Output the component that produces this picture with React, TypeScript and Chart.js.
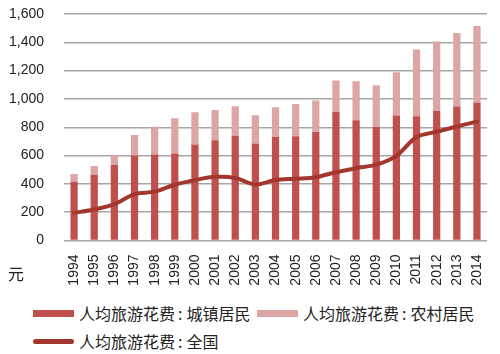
import React, { useEffect, useRef } from "react";
import { Chart, registerables } from "chart.js";

Chart.register(...registerables);

const years = ["1994","1995","1996","1997","1998","1999","2000","2001","2002","2003","2004","2005","2006","2007","2008","2009","2010","2011","2012","2013","2014"];
const urban = [414.7,464.0,534.1,599.8,607.0,614.8,678.6,708.3,739.7,684.9,731.8,737.1,766.4,906.9,849.4,801.1,883.0,877.8,914.5,946.6,975.4];
const rural = [54.9,61.5,70.5,145.7,197.0,249.5,226.6,212.7,209.1,200.0,210.2,227.6,221.9,222.5,275.3,295.3,306.0,471.4,491.0,518.9,540.2];
const national = [195.3,218.7,256.2,328.1,345.0,394.0,426.6,449.5,441.8,395.7,427.5,436.1,446.9,482.6,511.0,535.4,598.2,731.0,767.9,805.5,839.7];
const legendPrefix = "人均旅游花费";
const legendSuffixes = ["城镇居民", "农村居民", "全国"];
const yUnit = "元";

const C_URBAN = "#C0504D";
const C_RURAL = "#DBA6A5";
const C_LINE = "#A3362F";
const NUM_FONT = "'Liberation Sans', Arial, sans-serif";
const CJK_FONT = "'Noto Sans CJK SC', 'Liberation Sans', sans-serif";

function LegendText({ suffix, left, top }: { suffix: string; left: number; top: number }) {
  return (
    <div style={{ position: "absolute", left, top, fontFamily: CJK_FONT, fontSize: 16, color: "#222", lineHeight: "20px", whiteSpace: "nowrap" }}>
      {legendPrefix}
      <span style={{ padding: "0 4px 0 3px" }}>:</span>
      {suffix}
    </div>
  );
}

export default function App() {
  const ref = useRef<HTMLCanvasElement | null>(null);
  useEffect(() => {
    if (!ref.current) return;
    const chart = new Chart(ref.current, {
      type: "bar",
      data: {
        labels: years,
        datasets: [
          { type: "bar", label: legendPrefix + ":" + legendSuffixes[0], data: urban, backgroundColor: C_URBAN, stack: "s", order: 1, barPercentage: 0.36, categoryPercentage: 1 },
          { type: "bar", label: legendPrefix + ":" + legendSuffixes[1], data: rural, backgroundColor: C_RURAL, stack: "s", order: 1, barPercentage: 0.36, categoryPercentage: 1 },
          { type: "line", label: legendPrefix + ":" + legendSuffixes[2], data: national, borderColor: C_LINE, borderWidth: 4, pointRadius: 0, tension: 0.3, stack: "l", order: 0, borderCapStyle: "round" } as any,
        ],
      },
      options: {
        responsive: false,
        animation: false,
        layout: { padding: { top: 14, right: 10, left: 0, bottom: 0 } },
        plugins: { legend: { display: false }, tooltip: { enabled: false } },
        scales: {
          x: {
            stacked: true,
            grid: { display: false },
            border: { display: false },
            ticks: { minRotation: 90, maxRotation: 90, padding: 6, color: "#222", font: { family: NUM_FONT, size: 14 } },
            afterFit: (s: any) => { s.height = 59.5; },
          },
          y: {
            stacked: true,
            min: 0,
            max: 1600,
            ticks: {
              stepSize: 200,
              padding: 20,
              color: "#222",
              font: { family: NUM_FONT, size: 14 },
              callback: (v: any) => Number(v).toLocaleString("en-US"),
            },
            grid: { color: "#A6A6A6", lineWidth: 1.5, drawTicks: false },
            border: { display: false },
            afterFit: (s: any) => { s.width = 64; s.paddingTop = 8; s.paddingBottom = 8; },
          },
        },
      },
    });
    return () => chart.destroy();
  }, []);

  return (
    <div style={{ position: "absolute", left: 0, top: 0, width: 500, height: 354, background: "#fff" }}>
      <canvas ref={ref} width={500} height={300} style={{ position: "absolute", left: 0, top: 0 }} />
      <div style={{ position: "absolute", left: 8, top: 263, fontFamily: CJK_FONT, fontSize: 16, color: "#222", lineHeight: "20px" }}>{yUnit}</div>
      <div style={{ position: "absolute", left: 33, top: 310, width: 41, height: 7, background: C_URBAN }} />
      <LegendText suffix={legendSuffixes[0]} left={79} top={303} />
      <div style={{ position: "absolute", left: 257, top: 310, width: 41, height: 7, background: C_RURAL }} />
      <LegendText suffix={legendSuffixes[1]} left={303} top={303} />
      <div style={{ position: "absolute", left: 33, top: 339, width: 41, height: 5, borderRadius: 3, background: C_LINE }} />
      <LegendText suffix={legendSuffixes[2]} left={79} top={331} />
    </div>
  );
}
